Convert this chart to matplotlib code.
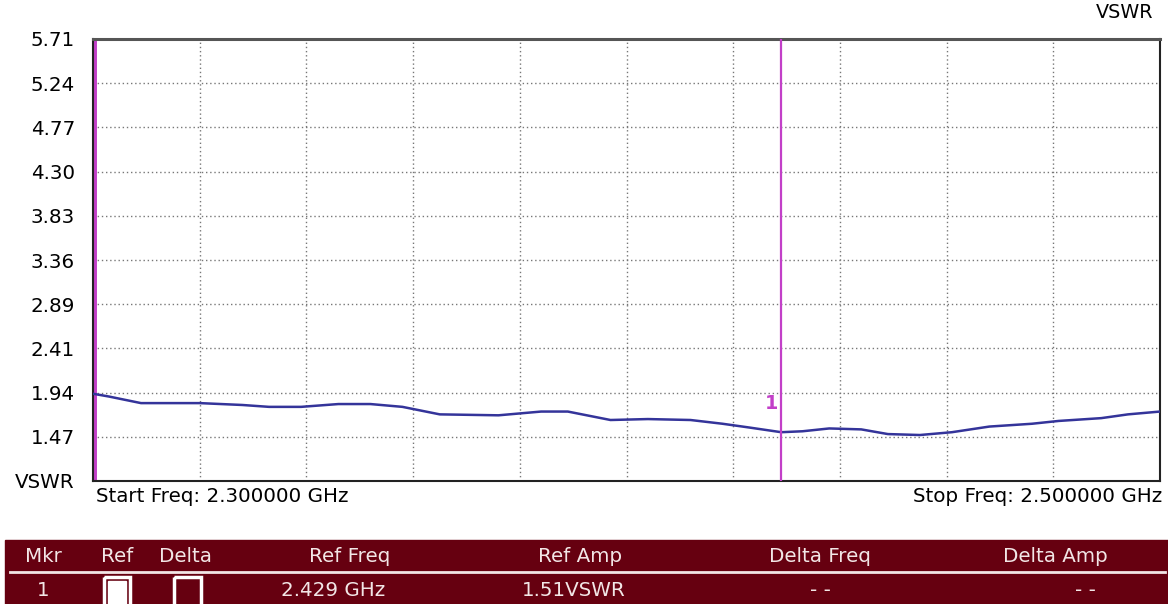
import numpy as np
import matplotlib.pyplot as plt
from matplotlib.patches import Rectangle

# %% data
freq_ghz = [2.300, 2.303, 2.309, 2.320, 2.328, 2.333, 2.339, 2.346, 2.352, 2.358,
            2.365, 2.376, 2.384, 2.389, 2.397, 2.404, 2.412, 2.418, 2.423, 2.429,
            2.433, 2.438, 2.444, 2.449, 2.455, 2.461, 2.468, 2.476, 2.481, 2.489,
            2.494, 2.500]
vswr = [1.93, 1.90, 1.83, 1.83, 1.81, 1.79, 1.79, 1.82, 1.82, 1.79,
        1.71, 1.70, 1.74, 1.74, 1.65, 1.66, 1.65, 1.61, 1.57, 1.52,
        1.53, 1.56, 1.55, 1.50, 1.49, 1.52, 1.58, 1.61, 1.64, 1.67,
        1.71, 1.74]
y_labels = ['VSWR', '1.47', '1.94', '2.41', '2.89', '3.36', '3.83', '4.30', '4.77', '5.24', '5.71']
y_min, y_max = 1.00, 5.71
f_start, f_stop = 2.300, 2.500
marker_freq = 2.429
marker_amp = 1.51

table_header = ['Mkr', 'Ref', 'Delta', 'Ref Freq', 'Ref Amp', 'Delta Freq', 'Delta Amp']
table_row = ['1', '', '', '2.429 GHz', '1.51VSWR', '- -', '- -']

# %% styling
W, H = 1168, 604
trace_col = '#34349a'
mkr_col = '#c23fc8'
tbl_bg = '#660010'
tbl_txt = '#f2e6e6'
font = 'DejaVu Sans'
fs = 14.3

fig = plt.figure(figsize=(W / 100, H / 100), dpi=100)
ax = fig.add_axes([93 / W, 1 - 481 / H, (1160 - 93) / W, (481 - 39) / H])

ax.plot(freq_ghz, vswr, color=trace_col, lw=1.8, zorder=3)
ax.axvline(marker_freq, color=mkr_col, lw=1.6, zorder=4)
ax.axvline(f_start, color=mkr_col, lw=5, zorder=2)
ax.text(marker_freq - 0.0005, marker_amp + 0.32, '1', color=mkr_col, ha='right', va='center',
        fontsize=fs - 0.5, fontweight='bold', family=font)

ax.set_xlim(f_start, f_stop)
ax.set_ylim(y_min, y_max)
ax.set_xticks(np.linspace(f_start, f_stop, 11))
ax.set_yticks(np.linspace(y_min, y_max, 11))
ax.set_yticklabels(y_labels, family=font, fontsize=fs)
ax.tick_params(axis='x', labelbottom=False, length=0)
ax.tick_params(axis='y', length=0, pad=13)
ax.grid(True, linestyle=(0, (1, 2)), color='#777777', lw=1)
for s in ax.spines.values():
    s.set_color('#222222')
    s.set_linewidth(1.5)
ax.spines['top'].set_color('#555555')
ax.spines['top'].set_linewidth(2.2)

fig.text(1153 / W, 1 - 13 / H, 'VSWR', ha='right', va='center', fontsize=fs - 0.5, family=font)
fig.text(96 / W, 1 - 497 / H, 'Start Freq: %.6f GHz' % f_start, ha='left', va='center',
         fontsize=fs, family=font)
fig.text(1162 / W, 1 - 497 / H, 'Stop Freq: %.6f GHz' % f_stop, ha='right', va='center',
         fontsize=fs, family=font)

# %% marker table
tab = fig.add_axes([0, 0, 1, 1], zorder=5)
tab.set_xlim(0, W)
tab.set_ylim(H, 0)
tab.axis('off')
tab.add_patch(Rectangle((5, 540), W - 5, H - 540, color=tbl_bg))
tab.plot([10, 1165], [572, 572], color=tbl_txt, lw=2)
head_x = [43, 117, 185, 350, 580, 820, 1055]
row_x = [43, 117, 185, 333, 574, 820, 1085]
for x, h in zip(head_x, table_header):
    tab.text(x, 556, h, color=tbl_txt, ha='center', va='center', fontsize=fs, family=font)
for x, v in zip(row_x, table_row):
    if v:
        tab.text(x, 591, v, color=tbl_txt, ha='center', va='center', fontsize=fs, family=font)
# check boxes: Ref ticked (white), Delta empty
tab.add_patch(Rectangle((104, 577), 26, 30, fill=False, ec='white', lw=2.5))
tab.add_patch(Rectangle((108, 581), 18, 30, color='white'))
tab.add_patch(Rectangle((174, 577), 27, 30, fill=False, ec='white', lw=2.5))

fig.savefig('out.png', dpi=100)
